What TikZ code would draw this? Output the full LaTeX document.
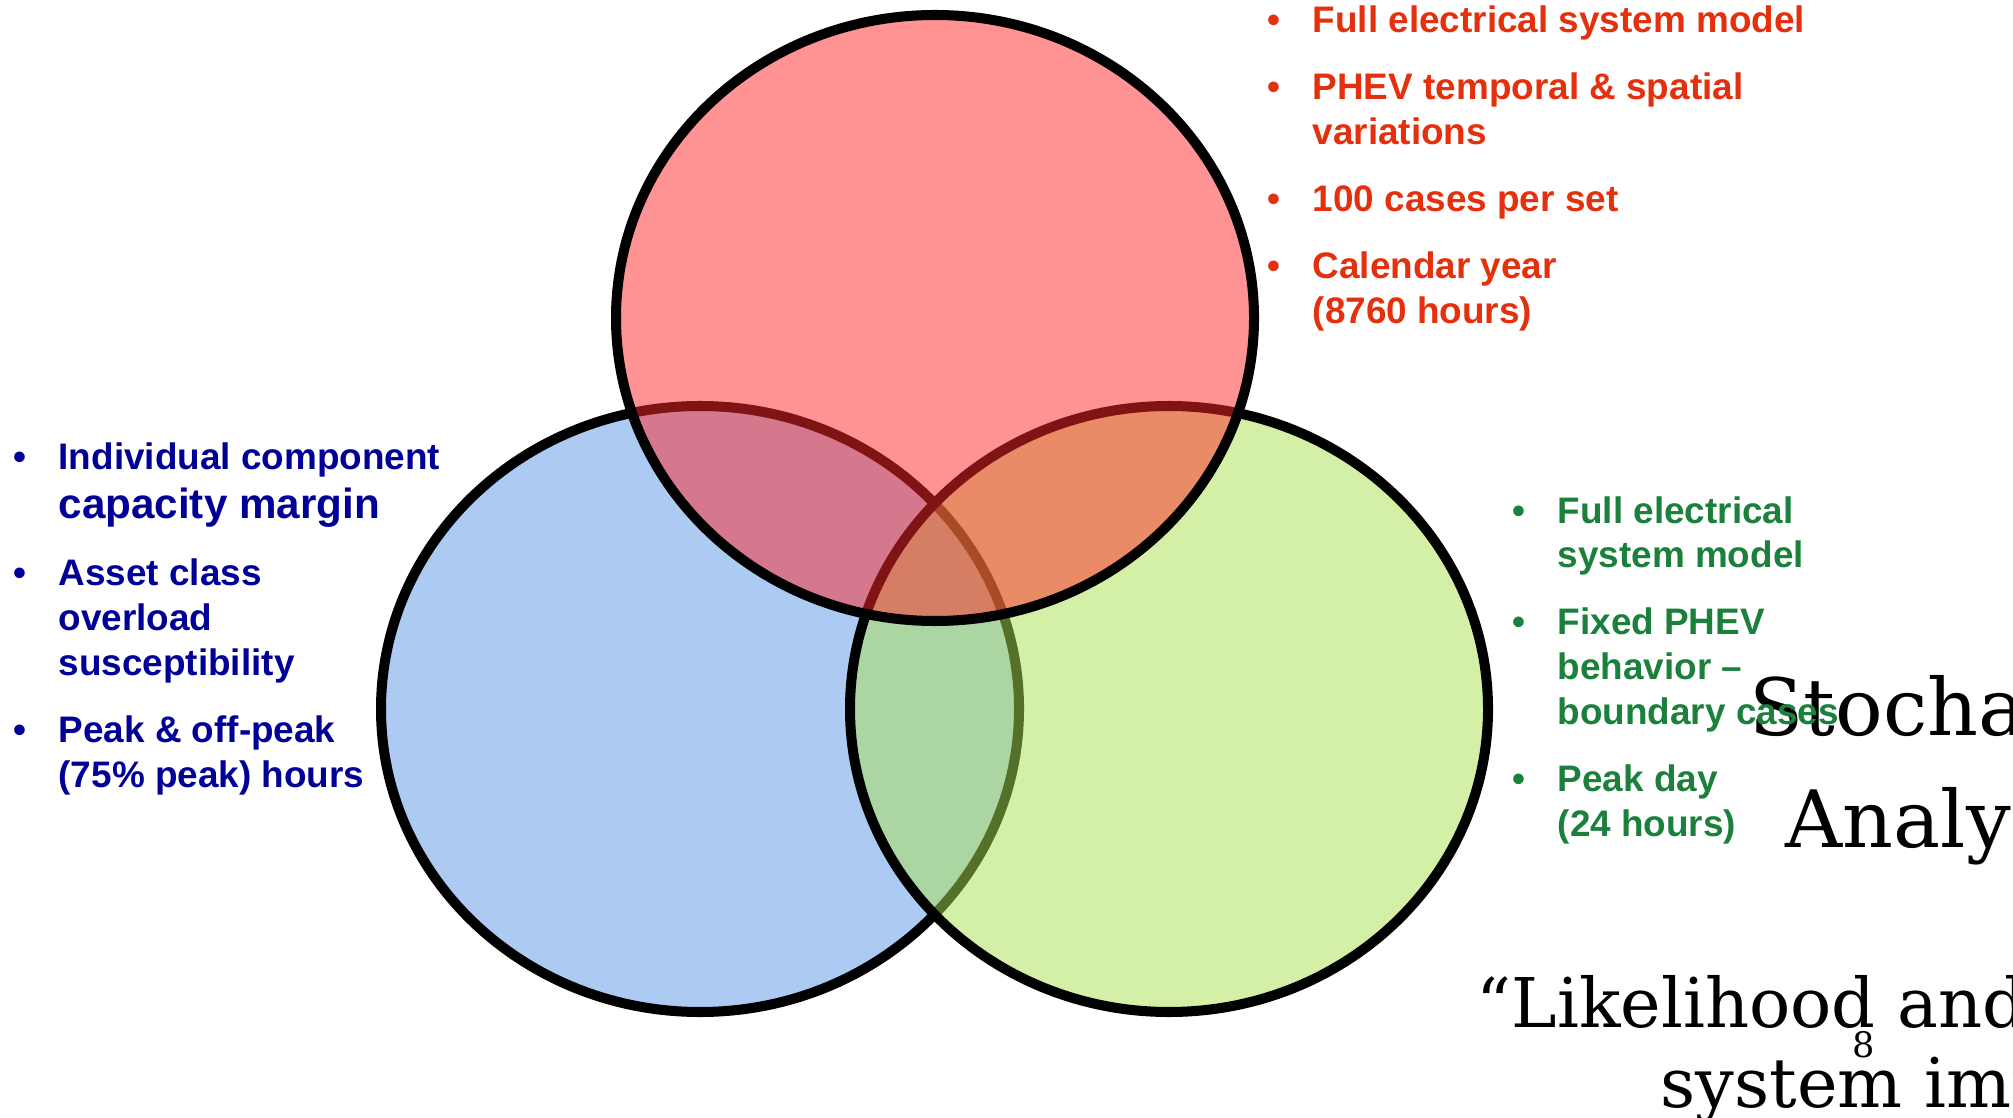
\documentclass[tikz,border=0pt]{standalone}
\usepackage{fontspec}
\setmainfont{Liberation Sans}
\newfontfamily\slidefont{DejaVu Serif}
\usetikzlibrary{shapes.geometric}

\definecolor{setred}{RGB}{255,40,40}
\definecolor{setblue}{RGB}{90,150,230}
\definecolor{setgreen}{RGB}{170,225,80}
\definecolor{txtred}{RGB}{228,48,12}
\definecolor{txtblue}{RGB}{0,0,150}
\definecolor{txtgreen}{RGB}{26,128,60}

\newcommand{\bul}{\makebox[0.45cm][l]{\textbullet}}

\begin{document}
\begin{tikzpicture}[
    vset/.style={
      ellipse, draw=black, line width=2.85pt,
      minimum width=6.38cm, minimum height=6.06cm,
      inner sep=0pt, fill opacity=0.5, draw opacity=1
    },
    list/.style={
      anchor=base west, inner sep=0pt,
      font=\bfseries\fontsize{10.5}{12.8}\selectfont
    },
    title/.style={
      anchor=base west, inner sep=0pt,
      font=\slidefont\fontsize{22.5}{26}\selectfont
    },
    quote/.style={
      anchor=base west, inner sep=0pt,
      font=\slidefont\fontsize{19.5}{23}\selectfont
    }
  ]
    \clip (0,0) rectangle (20.13,-11.18);

    % slide text behind the diagram
    \node[title] (stoch) at (17.49,-7.35) {Stochastic};
    \node[title] (anal)  at (17.85,-8.47) {Analysis};
    \node[quote] (likeli) at (14.76,-10.27) {“Likelihood and};
    \node[quote] (sysimp) at (16.60,-11.07) {system impact};
    \node[anchor=base, inner sep=0pt, font=\slidefont\fontsize{10}{12}\selectfont]
      (pnum) at (18.64,-10.57) {8};

    % the three sets
    \node[vset, fill=setblue]  (sensitivity) at (7.00,-7.09) {};
    \node[vset, fill=setgreen] (boundary)    at (11.69,-7.09) {};
    \node[vset, fill=setred]   (stochastic)  at (9.35,-3.18) {};

    % bullet lists
    \node[list, text=txtred] (redlist) at (12.67,-0.33) {%
      \begin{tabular}[t]{@{}l@{}l@{}}
        \bul & Full electrical system model\\[0.22cm]
        \bul & PHEV temporal \& spatial\\
             & variations\\[0.22cm]
        \bul & 100 cases per set\\[0.22cm]
        \bul & Calendar year\\
             & (8760 hours)
      \end{tabular}};
    \node[list, text=txtblue] (bluelist) at (0.13,-4.70) {%
      \begin{tabular}[t]{@{}l@{}l@{}}
        \bul & Individual component\\[0.04cm]
             & {\fontsize{12}{14}\selectfont capacity margin}\\[0.22cm]
        \bul & Asset class\\
             & overload\\
             & susceptibility\\[0.22cm]
        \bul & Peak \& off-peak\\
             & (75\% peak) hours
      \end{tabular}};
    \node[list, text=txtgreen] (greenlist) at (15.12,-5.23) {%
      \begin{tabular}[t]{@{}l@{}l@{}}
        \bul & Full electrical\\
             & system model\\[0.22cm]
        \bul & Fixed PHEV\\
             & behavior –\\
             & boundary cases\\[0.22cm]
        \bul & Peak day\\
             & (24 hours)
      \end{tabular}};
  \end{tikzpicture}
\end{document}
